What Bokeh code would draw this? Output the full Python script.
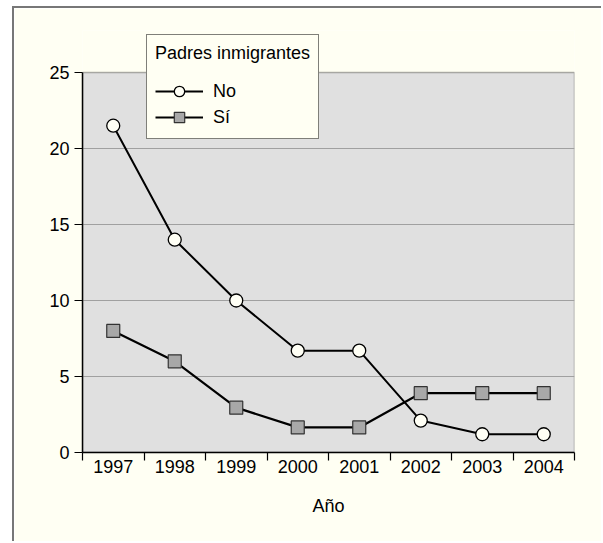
import numpy as np
from bokeh.plotting import figure
from bokeh.models import FixedTicker, Legend, BoxAnnotation
from bokeh.embed import file_html
from bokeh.resources import INLINE

years = ["1997", "1998", "1999", "2000", "2001", "2002", "2003", "2004"]
no_vals = [21.5, 14.0, 10.0, 6.7, 6.7, 2.1, 1.2, 1.2]
si_vals = [8.0, 6.0, 2.95, 1.65, 1.65, 3.9, 3.9, 3.9]
y_ticks = [0, 5, 10, 15, 20, 25]
y_max = 25

FONT = "Liberation Sans"
CREAM = "#FFFFF3"

xpos = np.arange(len(years)) + 0.5

FRAME_H = 422
PLOT_H = 380
y_end = y_max * FRAME_H / PLOT_H   # headroom above 25 for the legend box

p = figure(width=589, height=535, output_backend="svg", toolbar_location=None,
           x_range=(0, len(years)), y_range=(0, y_end),
           min_border_left=68, min_border_right=29, min_border_top=22, min_border_bottom=91,
           background_fill_color=CREAM, border_fill_color=CREAM,
           outline_line_color=None)
p.styles = {"margin-left": "12px", "margin-top": "6px",
            "border-left": "2px solid #777777", "border-top": "2px solid #777777"}

# grey plotting area 0..25
area = BoxAnnotation(left=0, right=len(years), bottom=0, top=y_max,
                     fill_color="#E0E0E0", fill_alpha=1,
                     line_color="black", line_width=1.5, level="image")
p.add_layout(area)

# grid
p.xgrid.visible = False
p.ygrid.ticker = FixedTicker(ticks=[5, 10, 15, 20])
p.ygrid.grid_line_color = "#A0A0A0"
p.ygrid.grid_line_width = 1.2

# x axis
p.xaxis.ticker = FixedTicker(ticks=list(xpos), minor_ticks=list(range(len(years) + 1)))
p.xaxis.major_label_overrides = {float(x): y for x, y in zip(xpos, years)}
p.xaxis.major_tick_line_color = None
p.xaxis.major_tick_out = 0
p.xaxis.major_tick_in = 0
p.xaxis.minor_tick_out = 8
p.xaxis.minor_tick_in = 0
p.xaxis.minor_tick_line_color = "black"
p.xaxis.minor_tick_line_width = 1.2
p.xaxis.major_label_standoff = -1
p.xaxis.axis_label = "Año"
p.xaxis.axis_label_standoff = 20

# y axis
p.yaxis.ticker = FixedTicker(ticks=y_ticks)
p.yaxis.bounds = (0, y_max)
p.yaxis.minor_tick_line_color = None
p.yaxis.major_tick_out = 8
p.yaxis.major_tick_in = 0
p.yaxis.major_label_standoff = 5

for ax in (p.xaxis, p.yaxis):
    ax.axis_line_color = "black"
    ax.axis_line_width = 1.5
    ax.major_tick_line_width = 1.2
    ax.major_label_text_font = FONT
    ax.major_label_text_font_size = "18px"
    ax.major_label_text_color = "black"
    ax.axis_label_text_font = FONT
    ax.axis_label_text_font_size = "18px"
    ax.axis_label_text_font_style = "normal"
    ax.axis_label_text_color = "black"

l1 = p.line(xpos, no_vals, line_color="black", line_width=2)
s1 = p.scatter(xpos, no_vals, marker="circle", size=13, fill_color="#FFFFF5",
               line_color="black", line_width=1.3)
l2 = p.line(xpos, si_vals, line_color="black", line_width=2.2)
s2 = p.scatter(xpos, si_vals, marker="square", size=13, fill_color="#A8A8A8",
               line_color="#333333", line_width=1.2)

legend = Legend(items=[("No", [l1, s1]), ("Sí", [l2, s2])],
                location=(64, 313), title="Padres inmigrantes",
                title_text_font=FONT, title_text_font_size="18px",
                title_text_font_style="normal", title_text_color="black",
                label_text_font=FONT, label_text_font_size="18px",
                label_text_color="black",
                background_fill_color=CREAM, background_fill_alpha=1,
                border_line_color="black", border_line_width=1.2,
                glyph_width=48, glyph_height=26, label_height=26,
                label_standoff=10, padding=8, spacing=0, title_standoff=14,
                margin=0)
p.add_layout(legend, "center")

open("out.html", "w").write(file_html(p, INLINE))
